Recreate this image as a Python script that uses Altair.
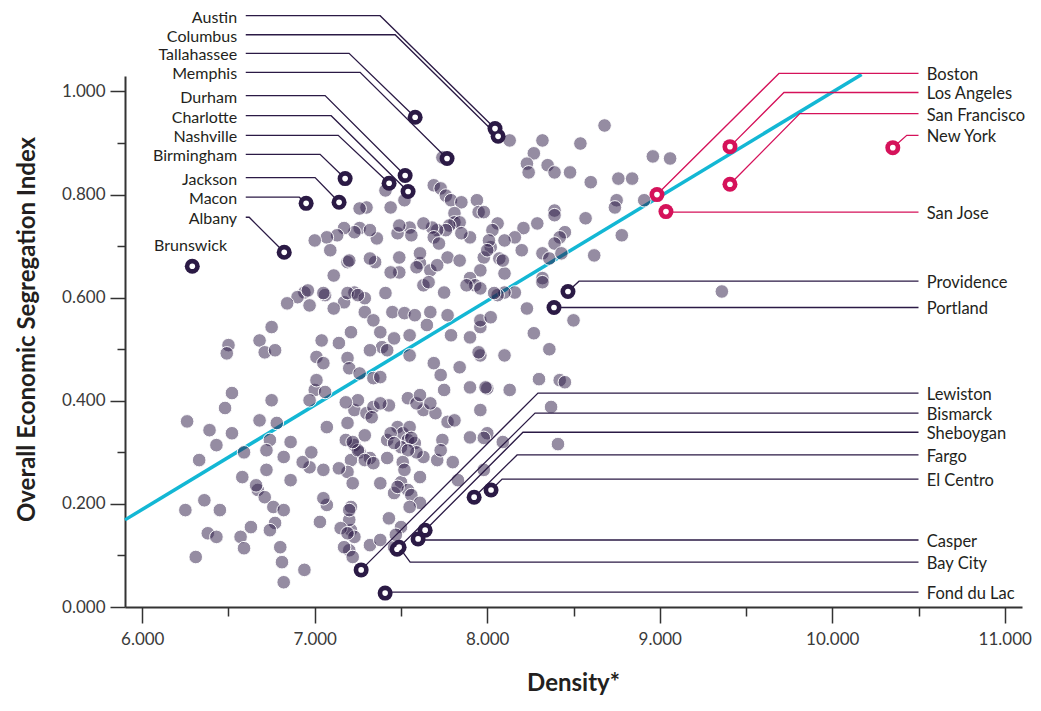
import altair as alt
import pandas as pd

DARK = "#2b1a45"
PINK = "#d5125a"
CYAN = "#13b7d4"
INK = "#231f20"
AXC = "#333333"
FONT = "Lato"

# ---- all metro areas (grey dots): density, segregation index ----
gray_x = [8.13, 8.32, 8.68, 8.54, 8.27, 8.23, 8.24, 8.35, 8.39, 8.48, 8.60, 8.76, 8.84, 8.96, 9.06, 8.91, 8.75, 8.74, 8.78, 8.62,
          8.57, 8.39, 8.39, 8.45, 8.42, 8.39, 8.32, 8.36, 8.43, 8.29, 8.21, 8.16, 8.20, 8.32, 8.10, 8.16, 8.06, 8.03, 8.02, 8.07,
          7.98, 7.94, 7.95, 8.10, 8.06,
          8.32, 8.23, 8.50, 8.27, 8.36, 8.10, 7.96, 7.95, 8.30, 8.42, 8.45, 8.00, 8.13, 8.37, 9.36, 7.96, 7.96, 8.41, 8.00, 8.09,
          7.98, 7.83, 7.77,
          7.63, 7.70, 7.54, 7.59, 7.43, 7.23, 7.30, 7.34, 7.25, 7.19, 7.48, 7.51, 7.54, 7.50, 7.58, 7.42, 7.44, 7.55, 7.63, 7.59,
          7.71, 7.74, 7.80, 7.90, 7.98, 7.23, 7.26, 7.32, 7.21, 7.38, 7.50, 7.54, 7.46, 7.56, 7.61, 7.55, 7.21, 7.21, 7.23, 7.20,
          7.32, 7.43, 7.50, 7.46, 7.20,
          7.19, 7.35, 7.49, 7.61, 7.67, 7.11, 7.77, 7.84, 7.96, 7.90, 7.93, 7.75, 7.63, 7.41, 7.23, 7.29, 7.17, 7.11, 7.06, 6.94,
          6.90, 6.84, 6.97, 7.29, 7.34, 7.45, 7.52, 7.58, 7.67, 7.77, 7.65, 7.79, 7.90, 7.96, 8.02, 8.04, 7.38, 7.39, 7.32, 7.46,
          7.42, 7.55, 7.55, 7.21, 7.14, 7.04, 7.01, 7.05, 7.19, 7.20, 7.26, 7.34, 7.38, 7.69, 7.73, 7.84, 7.90, 7.99, 7.75, 7.61,
          7.67, 7.38, 7.33, 7.81, 7.56, 7.54, 7.46, 7.29, 7.25, 7.29, 7.34, 7.42, 7.51, 7.52, 7.73, 7.61, 7.48, 7.19, 7.22, 7.14,
          7.05, 6.97, 6.93, 6.98, 6.82, 6.86, 6.74, 6.72, 6.72, 6.67, 6.71, 6.76, 6.82, 6.77, 6.74, 6.63, 6.57, 6.59, 6.80, 6.81,
          6.82, 6.94, 6.38, 6.43, 6.31, 6.25, 6.36, 6.45, 6.58, 6.66, 6.86, 7.07, 7.05, 7.03, 7.20, 7.15, 7.19, 7.17, 7.22, 7.47,
          7.38, 6.33, 6.43, 6.39, 6.26, 6.48, 6.52, 6.59, 6.52, 6.75, 6.68, 6.78, 6.50, 6.49, 6.68, 6.71, 6.77, 7.07, 7.18, 7.18,
          7.22, 7.00, 7.01, 7.06, 6.97,
          7.30, 7.26, 7.44, 7.52, 7.69, 7.73, 7.76, 7.79, 7.85, 7.98, 7.81, 7.81, 7.84, 7.78, 7.76, 7.71, 7.68, 7.69, 7.72, 7.90,
          8.01, 8.00, 7.55, 7.56, 7.48, 7.36, 7.26, 7.23, 7.17, 7.13, 7.07, 7.00, 7.09, 7.20, 7.49, 7.44, 7.59, 7.71, 7.66, 7.88,
          7.96, 6.96, 7.05, 7.19, 7.25,
          7.41, 7.74, 7.32, 7.49, 7.63, 7.32, 7.61, 7.85, 8.10, 8.09, 6.75]
gray_y = [0.905, 0.905, 0.934, 0.899, 0.880, 0.860, 0.843, 0.857, 0.843, 0.843, 0.824, 0.831, 0.831, 0.874, 0.870, 0.789, 0.789, 0.775, 0.721, 0.682,
          0.754, 0.769, 0.760, 0.727, 0.717, 0.705, 0.686, 0.676, 0.686, 0.744, 0.735, 0.717, 0.692, 0.638, 0.647, 0.610, 0.744, 0.731, 0.698, 0.676,
          0.678, 0.789, 0.766, 0.610, 0.605,
          0.630, 0.579, 0.556, 0.531, 0.500, 0.488, 0.488, 0.494, 0.442, 0.440, 0.436, 0.424, 0.421, 0.388, 0.612, 0.382, 0.543, 0.316, 0.337, 0.320,
          0.266, 0.246, 0.359,
          0.382, 0.376, 0.405, 0.395, 0.391, 0.382, 0.376, 0.388, 0.401, 0.357, 0.349, 0.337, 0.324, 0.310, 0.318, 0.324, 0.337, 0.349, 0.291, 0.300,
          0.285, 0.324, 0.281, 0.329, 0.328, 0.314, 0.300, 0.289, 0.285, 0.240, 0.242, 0.227, 0.221, 0.217, 0.202, 0.194, 0.194, 0.149, 0.136, 0.110,
          0.120, 0.172, 0.155, 0.116, 0.169,
          0.669, 0.669, 0.678, 0.667, 0.653, 0.643, 0.678, 0.672, 0.653, 0.638, 0.624, 0.610, 0.624, 0.609, 0.610, 0.599, 0.591, 0.579, 0.605, 0.610,
          0.601, 0.589, 0.585, 0.572, 0.556, 0.572, 0.570, 0.566, 0.572, 0.566, 0.547, 0.527, 0.523, 0.556, 0.562, 0.609, 0.533, 0.504, 0.498, 0.521,
          0.498, 0.527, 0.488, 0.533, 0.512, 0.517, 0.485, 0.473, 0.483, 0.463, 0.453, 0.444, 0.446, 0.473, 0.450, 0.465, 0.426, 0.426, 0.421, 0.411,
          0.395, 0.395, 0.368, 0.362, 0.328, 0.304, 0.318, 0.333, 0.304, 0.285, 0.279, 0.289, 0.281, 0.266, 0.304, 0.252, 0.233, 0.262, 0.240, 0.269,
          0.266, 0.271, 0.281, 0.300, 0.291, 0.320, 0.324, 0.304, 0.266, 0.227, 0.213, 0.194, 0.188, 0.163, 0.149, 0.155, 0.136, 0.114, 0.116, 0.087,
          0.048, 0.072, 0.143, 0.136, 0.097, 0.188, 0.207, 0.188, 0.252, 0.236, 0.246, 0.198, 0.211, 0.165, 0.188, 0.153, 0.143, 0.116, 0.097, 0.140,
          0.130, 0.285, 0.314, 0.343, 0.360, 0.386, 0.337, 0.300, 0.415, 0.401, 0.362, 0.357, 0.508, 0.492, 0.517, 0.494, 0.498, 0.349, 0.397, 0.324,
          0.320, 0.421, 0.440, 0.417, 0.401,
          0.775, 0.773, 0.775, 0.789, 0.818, 0.812, 0.798, 0.789, 0.785, 0.766, 0.764, 0.746, 0.746, 0.740, 0.731, 0.731, 0.736, 0.717, 0.705, 0.717,
          0.711, 0.692, 0.736, 0.721, 0.725, 0.715, 0.735, 0.727, 0.735, 0.721, 0.717, 0.711, 0.692, 0.672, 0.649, 0.649, 0.659, 0.663, 0.630, 0.624,
          0.618, 0.614, 0.609, 0.609, 0.605,
          0.808, 0.872, 0.731, 0.740, 0.744, 0.676, 0.686, 0.725, 0.711, 0.672, 0.543]

# ---- highlighted metro areas ----
hl_names = ["Austin", "Columbus", "Tallahassee", "Memphis", "Durham", "Charlotte", "Nashville", "Birmingham",
            "Jackson", "Macon", "Albany", "Brunswick",
            "Boston", "Los Angeles", "San Francisco", "New York", "San Jose", "Providence", "Portland",
            "Lewiston", "Bismarck", "Sheboygan", "Fargo", "El Centro", "Casper", "Bay City", "Fond du Lac"]
hl_x = [8.045, 8.063, 7.582, 7.767, 7.524, 7.541, 7.431, 7.176, 7.141, 6.950, 6.823, 6.290,
        8.984, 9.407, 9.407, 10.351, 9.036, 8.468, 8.387,
        7.269, 7.477, 7.640, 7.924, 8.022, 7.599, 7.489, 7.408]
hl_y = [0.928, 0.913, 0.950, 0.870, 0.837, 0.806, 0.822, 0.831, 0.785, 0.783, 0.688, 0.661,
        0.800, 0.893, 0.820, 0.891, 0.767, 0.612, 0.581,
        0.072, 0.112, 0.149, 0.213, 0.227, 0.132, 0.116, 0.027]
hl_group = ["dark"] * 12 + ["pink"] * 4 + ["pink", "dark", "dark"] + ["dark"] * 8

# ---- label layout (left column / right column) ----
left_names = ["Austin", "Columbus", "Tallahassee", "Memphis", "Durham", "Charlotte", "Nashville",
              "Birmingham", "Jackson", "Macon", "Albany"]
left_label_y = [1.147, 1.110, 1.074, 1.037, 0.992, 0.953, 0.915, 0.878, 0.833, 0.795, 0.756]
left_bend_x = [7.379, 7.466, 7.199, 7.263, 7.060, 7.095, 7.136, 7.031, 7.002, 6.910, 6.620]
LEFT_TEXT_X, LEFT_LINE_X = 6.55, 6.60

right_names = ["Boston", "Los Angeles", "San Francisco", "New York", "San Jose", "Providence", "Portland",
               "Lewiston", "Bismarck", "Sheboygan", "Fargo", "El Centro", "Casper", "Bay City", "Fond du Lac"]
right_label_y = [1.035, 0.998, 0.957, 0.915, 0.766, 0.632, 0.581, 0.415, 0.376, 0.339, 0.295, 0.248,
                 0.130, 0.087, 0.029]
right_bend_x = [9.691, 9.720, 9.812, 10.432, 9.036, 8.532, 8.387, 8.294, 8.277, 8.207, 8.173, 8.086,
                7.599, 7.553, 7.408]
RIGHT_TEXT_X, RIGHT_LINE_X = 10.548, 10.50

# ---- fitted trend line ----
reg_x = [5.9, 10.17]
reg_y = [0.169, 1.033]

x_ticks = [6, 7, 8, 9, 10, 11]
x_minor = [6.5, 7.5, 8.5, 9.5, 10.5]
y_ticks = [0.0, 0.2, 0.4, 0.6, 0.8, 1.0]
y_minor = [0.1, 0.3, 0.5, 0.7, 0.9]

# ---------------- tables ----------------
gray = pd.DataFrame({"x": gray_x, "y": gray_y})
hl = pd.DataFrame({"name": hl_names, "x": hl_x, "y": hl_y, "grp": hl_group})
pos = {n: (x, y, g) for n, x, y, g in zip(hl_names, hl_x, hl_y, hl_group)}

rows = []
for n, ly, bx in zip(left_names, left_label_y, left_bend_x):
    px, py, g = pos[n]
    rows += [dict(name=n, seq=0, x=LEFT_LINE_X, y=ly, grp=g),
             dict(name=n, seq=1, x=bx, y=ly, grp=g),
             dict(name=n, seq=2, x=px, y=py, grp=g)]
for n, ly, bx in zip(right_names, right_label_y, right_bend_x):
    px, py, g = pos[n]
    rows += [dict(name=n, seq=0, x=RIGHT_LINE_X, y=ly, grp=g),
             dict(name=n, seq=1, x=bx, y=ly, grp=g),
             dict(name=n, seq=2, x=px, y=py, grp=g)]
leaders = pd.DataFrame(rows)

left_lab = pd.DataFrame({"name": left_names, "x": [LEFT_TEXT_X] * len(left_names), "y": left_label_y})
right_lab = pd.DataFrame({"name": right_names, "x": [RIGHT_TEXT_X] * len(right_names), "y": right_label_y})
bruns_lab = pd.DataFrame({"name": ["Brunswick"], "x": [pos["Brunswick"][0] - 0.01], "y": [0.700]})
reg = pd.DataFrame({"x": reg_x, "y": reg_y})

xs = alt.Scale(domain=[5.9, 11.1], nice=False, zero=False)
ys = alt.Scale(domain=[0, 1.03], nice=False, zero=False)
cscale = alt.Scale(domain=["dark", "pink"], range=[DARK, PINK])


def X(axis=None):
    return alt.X("x:Q", scale=xs, axis=axis)


def Y(axis=None):
    return alt.Y("y:Q", scale=ys, axis=axis)


major_x = alt.Axis(values=x_ticks, format=".3f", orient="bottom", tickSize=16, tickWidth=1.5,
                   domainWidth=2, labelPadding=8, title="Density*", titleX=448, titleY=76,
                   titleBaseline="middle", titleAlign="center")
major_y = alt.Axis(values=y_ticks, format=".3f", orient="left", tickSize=15, tickWidth=1.5,
                   domainWidth=2, labelPadding=5, title="Overall Economic Segregation Index",
                   titleX=-98, titleY=253, titleAngle=-90, titleBaseline="middle", titleAlign="center")
minor_x = alt.Axis(values=x_minor, orient="bottom", tickSize=9, tickWidth=1.5, labels=False,
                   domain=False, title=None)
minor_y = alt.Axis(values=y_minor, orient="left", tickSize=8, tickWidth=1.5, labels=False,
                   domain=False, title=None)

trend = alt.Chart(reg).mark_line(color=CYAN, strokeWidth=3.5).encode(x=X(minor_x), y=Y(minor_y))

dots = alt.Chart(gray).mark_circle(size=185, fill=DARK, fillOpacity=0.5, stroke="white",
                                   strokeWidth=1, strokeOpacity=0.95, opacity=1).encode(
    x=X(major_x), y=Y(major_y))

lines = alt.Chart(leaders).mark_line(strokeWidth=1.3).encode(
    x=X(), y=Y(), detail="name:N", order="seq:Q",
    color=alt.Color("grp:N", scale=cscale, legend=None))

rings = alt.Chart(hl).mark_circle(size=225, opacity=1).encode(
    x=X(), y=Y(), color=alt.Color("grp:N", scale=cscale, legend=None))
holes = alt.Chart(hl).mark_circle(size=32, color="white", opacity=1).encode(x=X(), y=Y())

ltext = alt.Chart(left_lab).mark_text(align="right", baseline="middle", dy=2, font=FONT,
                                       fontSize=16, color=INK).encode(x=X(), y=Y(), text="name:N")
rtext = alt.Chart(right_lab).mark_text(align="left", baseline="middle", dy=2, font=FONT,
                                        fontSize=16.5, color=INK).encode(x=X(), y=Y(), text="name:N")
btext = alt.Chart(bruns_lab).mark_text(align="center", baseline="middle", font=FONT,
                                        fontSize=16, color=INK).encode(x=X(), y=Y(), text="name:N")

chart = alt.layer(trend, dots, lines, rings, holes, ltext, rtext, btext).resolve_axis(
    x="independent", y="independent"
).properties(
    width=897, height=531,
    autosize=alt.AutoSizeParams(type="none"),
    padding={"left": 117, "top": 68, "right": 11, "bottom": 88},
).configure_view(stroke=None).configure_axis(
    grid=False, domainColor=AXC, tickColor=AXC, labelColor="#3a3a3a", labelFont=FONT,
    labelFontSize=17, titleFont=FONT, titleFontSize=24, titleFontWeight="bold", titleColor=INK
)

chart.save("out.html", embed_options={"renderer": "svg", "actions": False})
